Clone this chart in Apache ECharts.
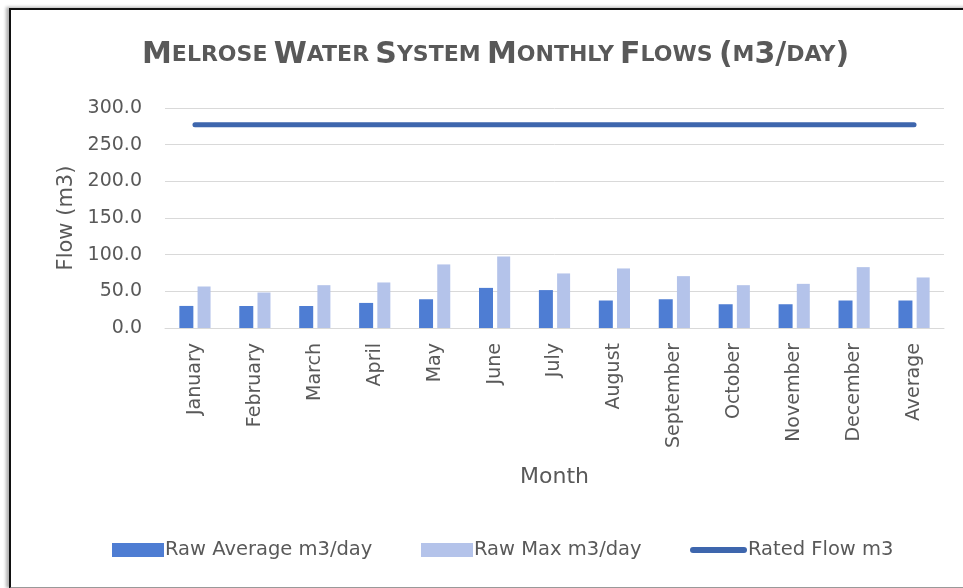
<!DOCTYPE html>
<html>
<head>
<meta charset="utf-8">
<script src="https://cdn.jsdelivr.net/npm/echarts@6/dist/echarts.min.js"></script>
<style>
  html, body { margin: 0; padding: 0; background: #fff; }
  #main { width: 963px; height: 588px; position: relative; }
  .frame {
    position: absolute; left: 9px; top: 8px; width: 970px; height: 577px;
    border-left: 2px solid #111; border-top: 2px solid #111; border-bottom: 2px solid #999;
    box-shadow: -3px -1px 3px rgba(0,0,0,0.3);
    pointer-events: none;
  }
</style>
</head>
<body>
<div id="main"></div>
<div class="frame"></div>
<script>
var months = ["January", "February", "March", "April", "May", "June", "July",
  "August", "September", "October", "November", "December", "Average"];
var rawAverage = [30.1, 30.0, 30.0, 34.2, 39.2, 54.7, 51.7, 37.5, 39.2, 32.4, 32.4, 37.5, 37.5];
var rawMax = [56.6, 48.4, 58.4, 62.1, 86.7, 97.6, 74.4, 81.2, 70.7, 58.4, 60.2, 83.0, 68.9];
var ratedFlow = [277, 277, 277, 277, 277, 277, 277, 277, 277, 277, 277, 277, 277];

var font = "'DejaVu Sans', sans-serif";
var grey = "#595959";
var chart = echarts.init(document.getElementById("main"));

// one legend per item so each sits where it does in the original
function legendAt(name, left, w, h, icon) {
  return {
    left: left, top: 535,
    itemWidth: w, itemHeight: h,
    icon: icon,
    textStyle: { fontSize: 19.5, color: grey, fontFamily: font, padding: [0, 0, 0, -4] },
    data: [name]
  };
}

chart.setOption({
  backgroundColor: "#fff",
  textStyle: { fontFamily: font },
  title: {
    text: "{b|M}{s|ELROSE} {b|W}{s|ATER} {b|S}{s|YSTEM} {b|M}{s|ONTHLY} {b|F}{s|LOWS} {b|(}{s|M}{b|3/}{s|DAY}{b|)}",
    left: 137,
    top: 35,
    textStyle: {
      rich: {
        b: { fontSize: 30, fontWeight: "bold", color: grey, fontFamily: font },
        s: { fontSize: 22, fontWeight: "bold", color: grey, fontFamily: font }
      }
    }
  },
  grid: { left: 165, right: 19, top: 108, bottom: 260 },
  legend: [
    legendAt("Raw Average m3/day", 107, 52, 14, "rect"),
    legendAt("Raw Max m3/day", 416, 52, 14, "rect"),
    legendAt("Rated Flow m3", 685, 57, 6, "path://M3,0 L54,0 A3,3 0 0 1 54,6 L3,6 A3,3 0 0 1 3,0 Z")
  ],
  xAxis: {
    type: "category",
    data: months,
    name: "Month",
    nameLocation: "middle",
    nameGap: 138,
    nameTextStyle: { fontSize: 22, color: grey },
    axisLine: { lineStyle: { color: "#D9D9D9", width: 1 } },
    axisTick: { show: false },
    axisLabel: { rotate: 90, fontSize: 19, color: grey, margin: 15 }
  },
  yAxis: {
    type: "value",
    min: 0,
    max: 300,
    interval: 50,
    name: "Flow (m3)",
    nameLocation: "middle",
    nameGap: 88,
    nameTextStyle: { fontSize: 21, color: grey },
    axisLine: { show: false },
    axisTick: { show: false },
    axisLabel: {
      fontSize: 19, color: grey, margin: 23,
      formatter: function (v) { return v.toFixed(1); }
    },
    splitLine: { lineStyle: { color: "#D9D9D9", width: 1 } }
  },
  series: [
    {
      name: "Raw Average m3/day",
      type: "bar",
      data: rawAverage,
      barWidth: 14,
      barGap: "30%",
      itemStyle: { color: "#4E7DD3" }
    },
    {
      name: "Raw Max m3/day",
      type: "bar",
      data: rawMax,
      barWidth: 13,
      itemStyle: { color: "#B4C3EA" }
    },
    {
      name: "Rated Flow m3",
      type: "line",
      data: ratedFlow,
      symbol: "none",
      lineStyle: { color: "#3E66AD", width: 5, cap: "round" },
      itemStyle: { color: "#3E66AD" }
    }
  ]
});
</script>
</body>
</html>
